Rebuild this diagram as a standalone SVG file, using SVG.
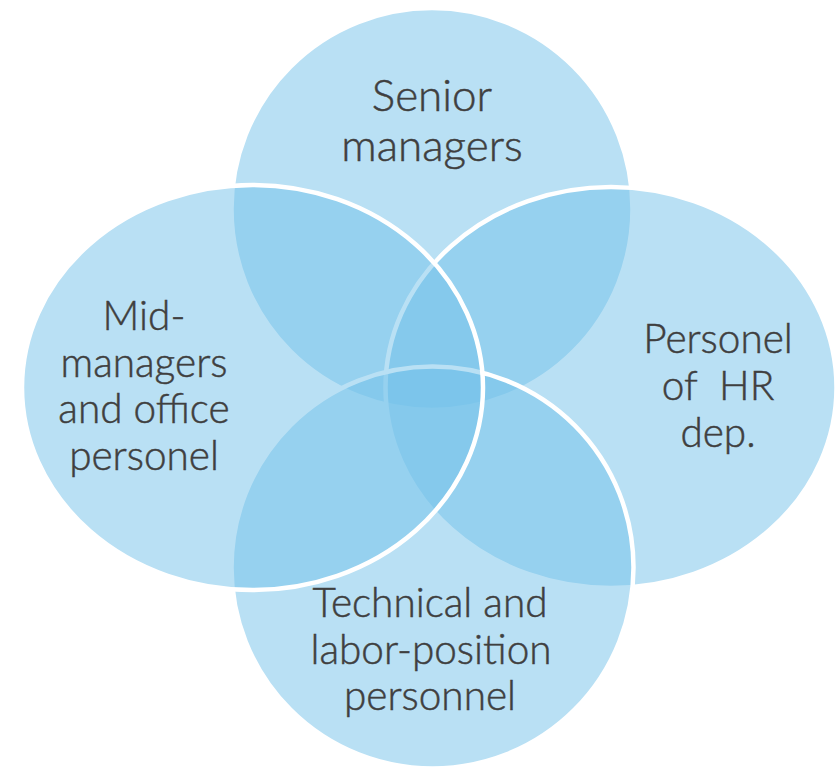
<svg xmlns="http://www.w3.org/2000/svg" width="837" height="770" viewBox="0 0 837 770">
  <style>
    .blob { fill: #74C2EA; fill-opacity: 0.5; stroke: #FFFFFF; stroke-width: 4.5; }
    .lbl { font-family: "Lato", "Open Sans", "Liberation Sans", sans-serif; font-weight: 300; fill: #3F3F3F; stroke: #3F3F3F; stroke-width: 0.5; text-anchor: middle; }
    .big { font-size: 44px; }
    .std { font-size: 40.5px; }
    .pre { white-space: pre; }
  </style>
  <rect width="837" height="770" fill="#FFFFFF"/>

  <!-- Four overlapping groups, drawn back to front -->
  <g id="senior-managers">
    <ellipse class="blob" cx="432" cy="209" rx="200.5" ry="201"/>
    <text class="lbl big" x="432" y="111">Senior</text>
    <text class="lbl big" x="432" y="161">managers</text>
  </g>

  <g id="hr-personnel">
    <ellipse class="blob" cx="611" cy="387.5" rx="225.5" ry="200.5"/>
    <text class="lbl std" x="718" y="353">Personel</text>
    <text class="lbl std pre" x="718" y="400">of  HR</text>
    <text class="lbl std" x="718" y="447">dep.</text>
  </g>

  <g id="technical-personnel">
    <ellipse class="blob" cx="432.5" cy="567.5" rx="201" ry="201"/>
    <text class="lbl std" x="430" y="617">Technical and</text>
    <text class="lbl std" x="431" y="664">labor-position</text>
    <text class="lbl std" x="430" y="710">personnel</text>
  </g>

  <g id="mid-managers">
    <ellipse class="blob" cx="252.5" cy="387.5" rx="230.5" ry="202.5"/>
    <text class="lbl std" x="144" y="330">Mid-</text>
    <text class="lbl std" x="144" y="377">managers</text>
    <text class="lbl std" x="144" y="423">and office</text>
    <text class="lbl std" x="144" y="470">personel</text>
  </g>

  <g id="connectors"/>
</svg>
